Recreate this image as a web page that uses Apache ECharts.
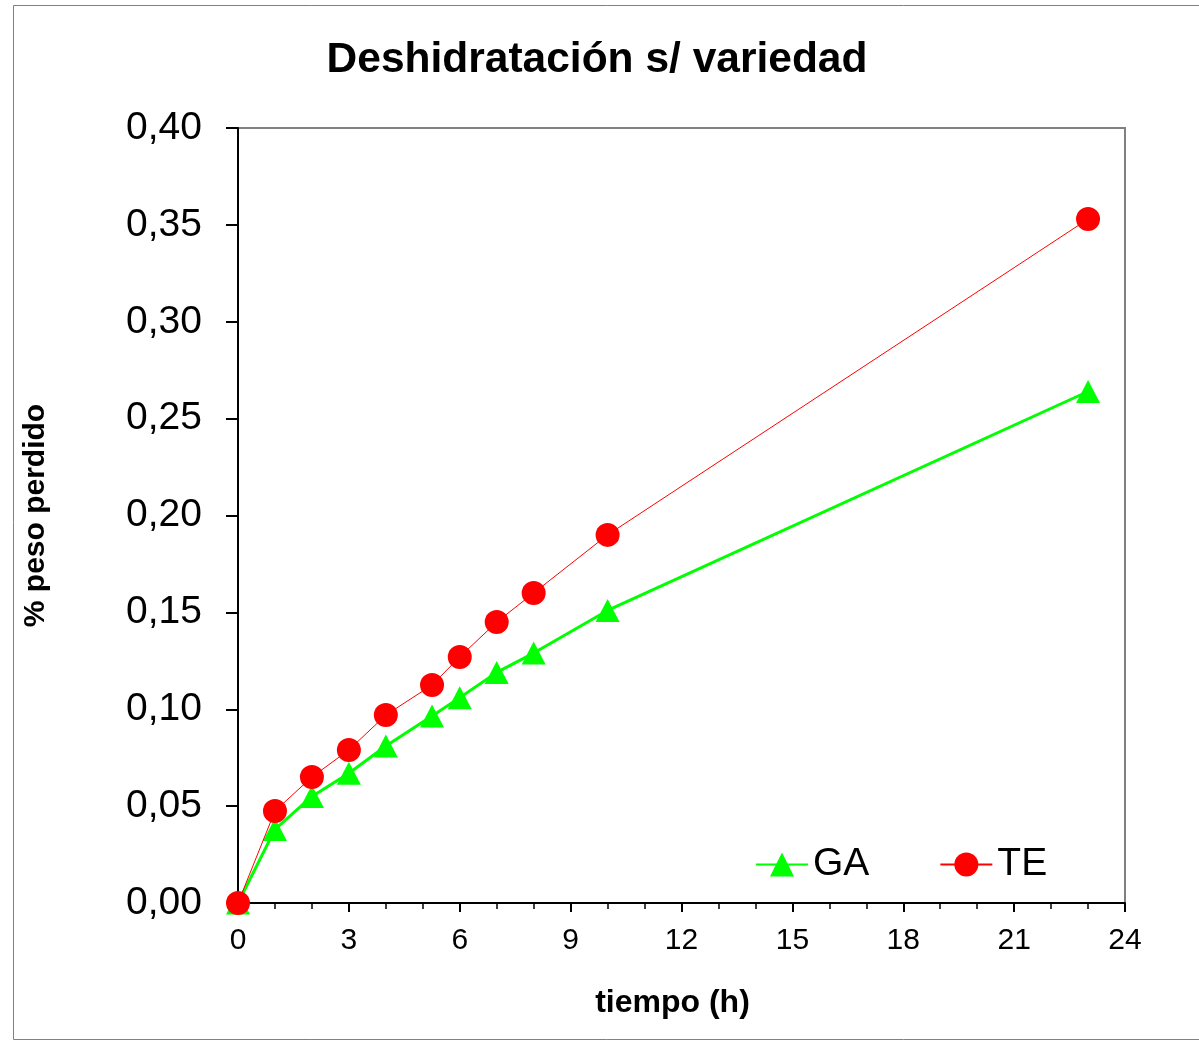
<!DOCTYPE html>
<html>
<head>
<meta charset="utf-8">
<script src="https://cdn.jsdelivr.net/npm/echarts@6/dist/echarts.min.js"></script>
<style>
  html, body { margin: 0; padding: 0; background: #fff; }
  #chart { width: 1199px; height: 1041px; }
</style>
</head>
<body>
<div id="chart"></div>
<script>
// Hours of drying
const hours = [0, 1, 2, 3, 4, 5.25, 6, 7, 8, 10, 23];
// Weight lost per variety
const gaValues = [0, 0.038, 0.055, 0.067, 0.081, 0.0965, 0.106, 0.119, 0.129, 0.151, 0.264];
const teValues = [0, 0.0475, 0.065, 0.079, 0.097, 0.1125, 0.127, 0.145, 0.160, 0.190, 0.353];
const seriesNames = ['GA', 'TE'];

const pairs = (xs, ys) => xs.map((x, i) => [x, ys[i]]);
const font = '"Liberation Sans", Arial, sans-serif';

const chart = echarts.init(document.getElementById('chart'));
chart.setOption({
  animation: false,
  backgroundColor: '#fff',
  title: {
    text: 'Deshidratación s/ variedad',
    left: 592, top: 34, textAlign: 'center',
    textStyle: { fontFamily: font, fontSize: 42.5, fontWeight: 'bold', color: '#000' }
  },
  graphic: [{
    type: 'rect',
    shape: { x: 13.5, y: 5.5, width: 1200, height: 1034 },
    style: { fill: 'none', stroke: '#808080', lineWidth: 1 },
    silent: true
  }],
  grid: {
    left: 238, top: 128, right: 74, bottom: 138,
    outerBoundsMode: 'none',
    show: true, borderColor: '#808080', borderWidth: 2, backgroundColor: 'transparent'
  },
  legend: {
    left: 750, top: 840,
    itemWidth: 52, itemHeight: 30, itemGap: 70,
    textStyle: { fontFamily: font, fontSize: 39, color: '#000' },
    data: seriesNames
  },
  xAxis: {
    type: 'value', min: 0, max: 24, interval: 3,
    name: 'tiempo (h)', nameLocation: 'middle', nameGap: 84,
    nameTextStyle: { fontFamily: font, fontSize: 32, fontWeight: 'bold', color: '#000', padding: [0, 18, 0, 0] },
    axisLine: { show: true, onZero: false, lineStyle: { color: '#000', width: 2 } },
    axisTick: { show: true, length: 9, lineStyle: { color: '#000', width: 2 } },
    minorTick: { show: true, splitNumber: 3, length: 6, lineStyle: { color: '#000', width: 1.5 } },
    axisLabel: { fontFamily: font, fontSize: 30, color: '#000', margin: 23 },
    splitLine: { show: false }
  },
  yAxis: {
    type: 'value', min: 0, max: 0.4, interval: 0.05,
    name: '% peso perdido', nameLocation: 'middle', nameGap: 187, nameRotate: 90,
    nameTextStyle: { fontFamily: font, fontSize: 30, fontWeight: 'bold', color: '#000' },
    axisLine: { show: true, onZero: false, lineStyle: { color: '#000', width: 2 } },
    axisTick: { show: true, length: 12, lineStyle: { color: '#000', width: 2 } },
    axisLabel: {
      fontFamily: font, fontSize: 39, color: '#000', margin: 36,
      formatter: v => v.toFixed(2).replace('.', ',')
    },
    splitLine: { show: false }
  },
  series: [
    {
      name: seriesNames[0], type: 'line',
      data: pairs(hours, gaValues),
      symbol: 'triangle', symbolSize: [24, 23],
      itemStyle: { color: '#00ff00' },
      lineStyle: { color: '#00ff00', width: 3 },
      z: 2
    },
    {
      name: seriesNames[1], type: 'line',
      data: pairs(hours, teValues),
      symbol: 'circle', symbolSize: 24,
      itemStyle: { color: '#ff0000' },
      lineStyle: { color: '#ff0000', width: 1 },
      z: 3
    }
  ]
});
</script>
</body>
</html>
